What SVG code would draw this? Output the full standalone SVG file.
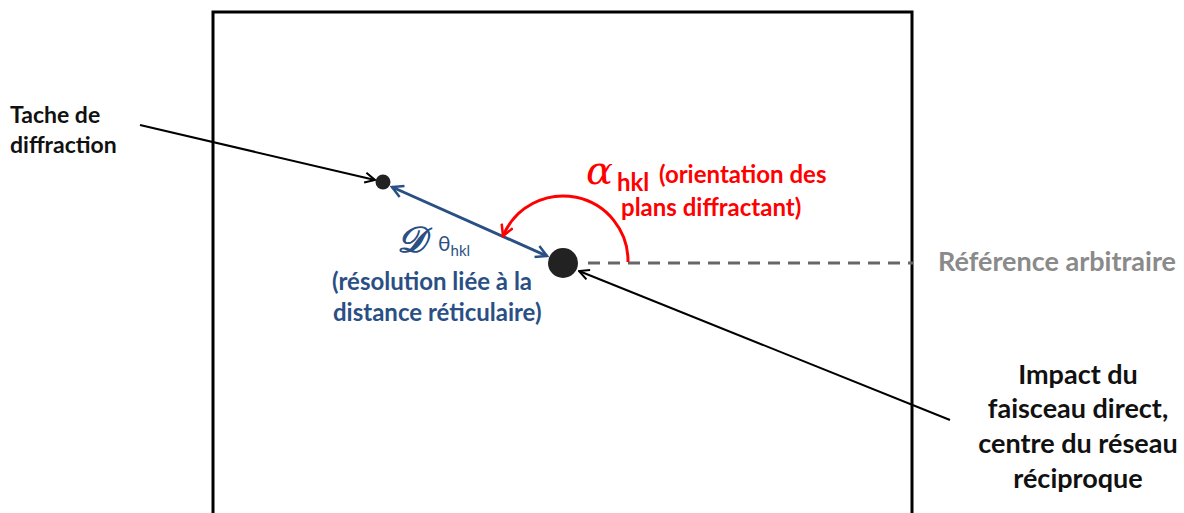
<svg xmlns="http://www.w3.org/2000/svg" width="1184" height="513" viewBox="0 0 1184 513">
<defs>
<style>
text{font-family:Lato,"Open Sans",sans-serif;font-weight:bold;font-size:23px}
.blk{fill:#111}
.red{fill:#ff0000;font-size:24px}
.blue{fill:#2a4f84;font-size:24px}
.gray{fill:#8a8a8a;font-size:27px}
.big{font-size:27px}
</style>
<marker id="openK" viewBox="0 0 12 12" refX="11" refY="6" markerWidth="12" markerHeight="12" markerUnits="userSpaceOnUse" orient="auto-start-reverse"><path d="M1,1 L11,6 L1,11" fill="none" stroke="#000" stroke-width="2"/></marker>
<marker id="openB" viewBox="0 0 14 14" refX="12" refY="7" markerWidth="14" markerHeight="14" markerUnits="userSpaceOnUse" orient="auto-start-reverse"><path d="M1,1 L12,7 L1,13" fill="none" stroke="#2a4f84" stroke-width="2.5"/></marker>
<marker id="openR" viewBox="0 0 14 14" refX="12" refY="7" markerWidth="14" markerHeight="14" markerUnits="userSpaceOnUse" orient="auto"><path d="M1,1 L12,7 L1,13" fill="none" stroke="#ff0000" stroke-width="2.5"/></marker>
</defs>
<rect width="1184" height="513" fill="#fff"/>
<g id="frame"><path d="M213,520 L213,12 L912,12 L912,520" fill="none" stroke="#000" stroke-width="3"/></g>
<g id="connectors">
<line x1="588" y1="263" x2="913" y2="263" stroke="#666" stroke-width="3" stroke-dasharray="12,8"/>
<line x1="140" y1="125" x2="375" y2="180" stroke="#000" stroke-width="2" marker-end="url(#openK)"/>
<line x1="950" y1="420" x2="579" y2="271" stroke="#000" stroke-width="2" marker-end="url(#openK)"/>
<line x1="392" y1="187" x2="547" y2="256" stroke="#2a4f84" stroke-width="3" marker-start="url(#openB)" marker-end="url(#openB)"/>
<path d="M628,262 A65,65 0 0 0 503,236" fill="none" stroke="#ff0000" stroke-width="3" marker-end="url(#openR)"/>
</g>
<g id="spot"><circle cx="383" cy="182" r="7.5" fill="#222"/></g>
<g id="center"><circle cx="563" cy="263" r="15" fill="#222"/></g>
<g id="label-tache"><text class="blk" x="10" y="123">Tache de</text><text class="blk" x="10" y="153">diffraction</text></g>
<g id="label-alpha">
<text class="red" x="586" y="184" style="font-family:'DejaVu Serif',serif;font-weight:normal;font-size:40px;font-style:italic">α</text>
<text class="red" x="617" y="191" style="font-size:24px">hkl</text>
<text class="red" x="659" y="183">(orientation des</text>
<text class="red" x="621" y="216">plans diffractant)</text>
</g>
<g id="label-D">
<text class="blue" x="397" y="252" stroke="#2a4f84" stroke-width="1.2" style="font-family:'DejaVu Serif',serif;font-style:italic;font-weight:normal;font-size:36px">𝒟</text>
<text class="blue" x="438" y="251" style="font-weight:normal;font-size:21px">θ<tspan dy="5" style="font-size:15px">hkl</tspan></text>
<text class="blue" x="332" y="290">(résolution liée à la</text>
<text class="blue" x="333" y="321">distance réticulaire)</text>
</g>
<g id="label-ref"><text class="gray" x="938" y="271">Référence arbitraire</text></g>
<g id="label-impact" text-anchor="middle">
<text class="blk big" x="1078" y="384">Impact du</text>
<text class="blk big" x="1078" y="418">faisceau direct,</text>
<text class="blk big" x="1078" y="453">centre du réseau</text>
<text class="blk big" x="1078" y="488">réciproque</text>
</g>
</svg>
